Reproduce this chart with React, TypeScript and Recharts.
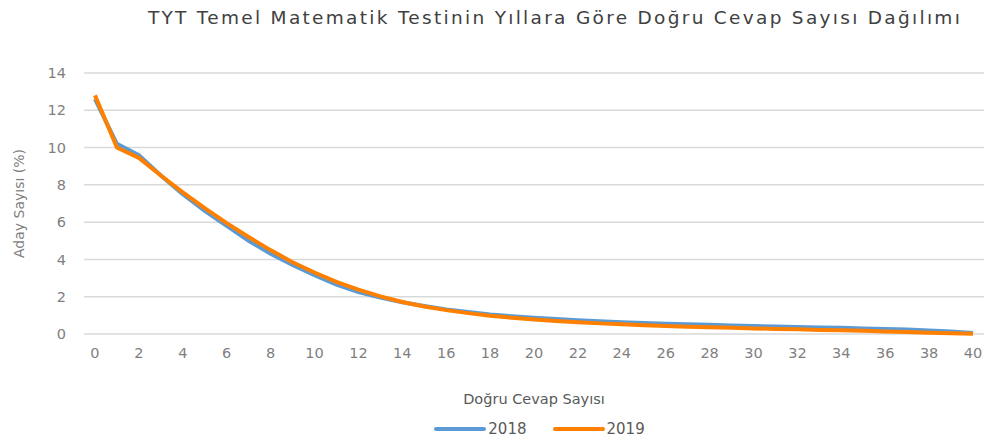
import React from "react";
import { LineChart, Line, XAxis, YAxis, CartesianGrid } from "recharts";

const answers = [0,1,2,3,4,5,6,7,8,9,10,11,12,13,14,15,16,17,18,19,20,21,22,23,24,25,26,27,28,29,30,31,32,33,34,35,36,37,38,39,40];
const y2018 = [12.6,10.2,9.6,8.5,7.5,6.6,5.8,5.0,4.3,3.7,3.15,2.65,2.25,1.95,1.7,1.5,1.32,1.18,1.05,0.95,0.87,0.8,0.74,0.68,0.63,0.59,0.55,0.52,0.49,0.46,0.43,0.4,0.38,0.35,0.33,0.3,0.27,0.24,0.19,0.13,0.06];
const y2019 = [12.8,10.0,9.45,8.5,7.6,6.75,5.95,5.2,4.5,3.85,3.3,2.8,2.38,2.02,1.72,1.48,1.28,1.12,0.98,0.87,0.78,0.7,0.63,0.57,0.52,0.47,0.43,0.39,0.36,0.33,0.3,0.27,0.25,0.22,0.2,0.17,0.14,0.11,0.07,0.04,0.02];
const xTicks = [0,2,4,6,8,10,12,14,16,18,20,22,24,26,28,30,32,34,36,38,40];
const yTicks = [0,2,4,6,8,10,12,14];
const seriesNames = ["2018", "2019"];
const colors = ["#5b9bd5", "#ff8000"];

const data = answers.map((a, i) => ({ x: a, s2018: y2018[i], s2019: y2019[i] }));

const FONT = "'DejaVu Sans', sans-serif";

export default function App() {
  return (
    <div style={{ position: "absolute", left: 0, top: 0, width: 987, height: 439, background: "#fff" }}>
      <div style={{ position: "absolute", left: 100, top: 7, width: 910, textAlign: "center", fontFamily: FONT, fontSize: 18.5, letterSpacing: 2.3, color: "#404040", whiteSpace: "nowrap" }}>
        TYT Temel Matematik Testinin Yıllara Göre Doğru Cevap Sayısı Dağılımı
      </div>
      <LineChart width={987} height={439} data={data} margin={{ top: 73, right: 3, bottom: 75, left: 24 }}>
        <CartesianGrid horizontal={true} vertical={false} stroke="#d9d9d9" strokeWidth={1.5} />
        <XAxis
          dataKey="x"
          type="number"
          domain={[-0.5, 40.5]}
          ticks={xTicks}
          interval={0}
          axisLine={false}
          tickLine={false}
          tickSize={0}
          tickMargin={14}
          height={30}
          tick={{ fill: "#7f7f7f", fontSize: 14.5, fontFamily: FONT }}
        />
        <YAxis
          width={60}
          domain={[0, 14]}
          ticks={yTicks}
          interval={0}
          axisLine={false}
          tickLine={false}
          tickSize={0}
          tickMargin={18}
          tick={{ fill: "#7f7f7f", fontSize: 14.5, fontFamily: FONT }}
          label={{ value: "Aday Sayısı (%)", angle: -90, position: "insideLeft", offset: -5, fill: "#7f7f7f", fontSize: 14, fontFamily: FONT, style: { textAnchor: "middle" } }}
        />
        <Line type="linear" dataKey="s2018" name="2018" stroke={colors[0]} strokeWidth={4} dot={false} isAnimationActive={false} />
        <Line type="linear" dataKey="s2019" name="2019" stroke={colors[1]} strokeWidth={4} dot={false} isAnimationActive={false} />
      </LineChart>
      <div style={{ position: "absolute", left: 84, width: 900, top: 391, textAlign: "center", fontFamily: FONT, fontSize: 14.5, color: "#595959" }}>
        Doğru Cevap Sayısı
      </div>
      <div style={{ position: "absolute", left: 0, width: 987, top: 420, paddingLeft: 92, boxSizing: "border-box", display: "flex", justifyContent: "center", fontFamily: FONT, fontSize: 15, color: "#595959" }}>
        {seriesNames.map((n, i) => (
          <div key={n} style={{ display: "flex", alignItems: "center", marginRight: i === 0 ? 26 : 0 }}>
            <svg width={52} height={8}><line x1={2} y1={4} x2={50} y2={4} stroke={colors[i]} strokeWidth={4} strokeLinecap="round" /></svg>
            <span style={{ marginLeft: 2 }}>{n}</span>
          </div>
        ))}
      </div>
    </div>
  );
}
